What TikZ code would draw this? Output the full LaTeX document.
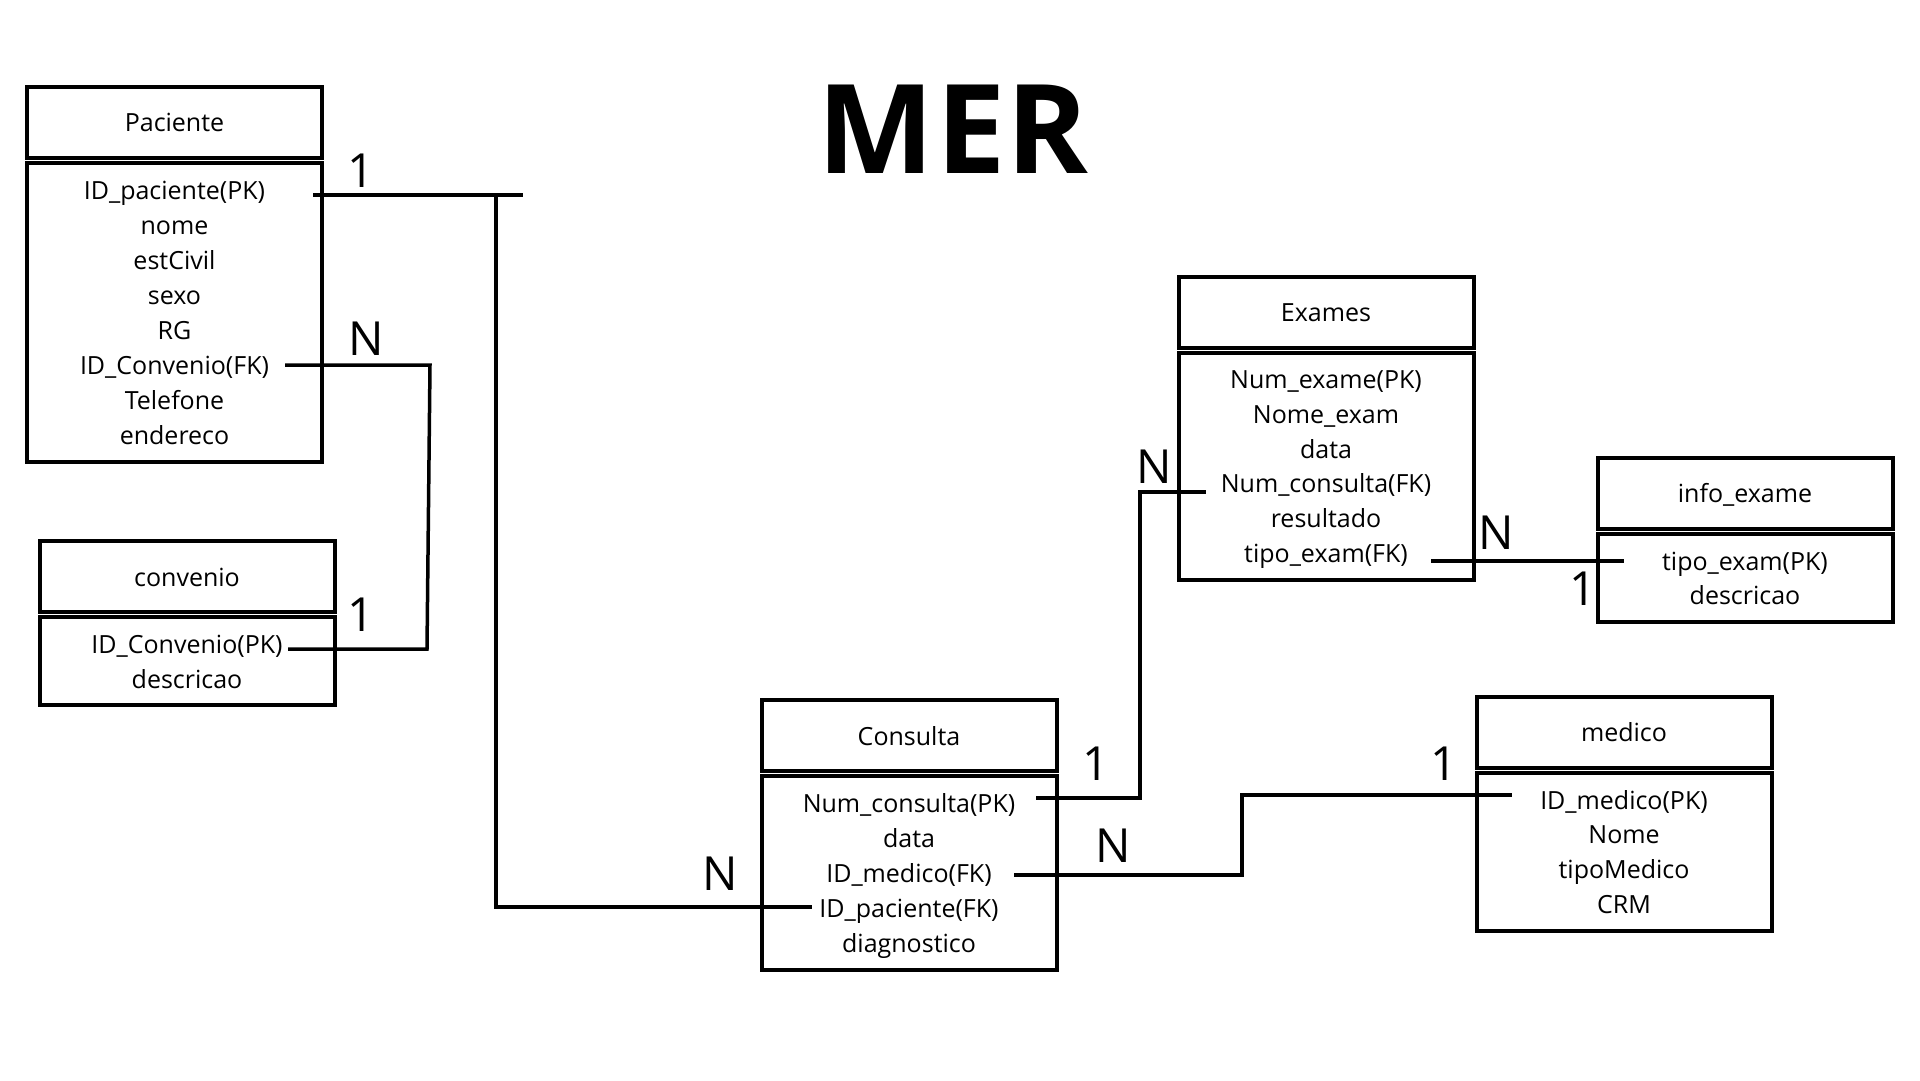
\documentclass[tikz,border=0pt]{standalone}
\usepackage{fontspec}
\setmainfont{Open Sans}
\begin{document}
\begin{tikzpicture}[x=1pt,y=-1pt,
  hdr/.style={draw, line width=4pt, minimum width=295pt, minimum height=71pt, anchor=north west, inner sep=0pt, outer sep=0pt},
  bdy/.style={draw, line width=4pt, minimum width=295pt, anchor=north west, inner sep=0pt, outer sep=0pt},
  attr/.style={font=\fontsize{25}{30}\selectfont, inner sep=0pt, anchor=base},
  card/.style={font=\fontsize{47}{56}\selectfont, inner sep=0pt, anchor=center},
  link/.style={line width=3.5pt},
  ttl/.style={font=\fontsize{124}{140}\selectfont\bfseries, inner sep=0pt, anchor=center}]
\fill[white] (0,0) rectangle (1920,1080);
\useasboundingbox (0,0) rectangle (1920,1080);

% title
\node[ttl] (title) at (953,129) {M\kern2pt E\kern1pt R};

% Paciente
\node[hdr] (pacH) at (27,87) {};
\node[bdy, minimum height=299pt] (pacB) at (27,163) {};
\node[attr] (pacT) at (174.5,131) {Paciente};
\node[attr] (pac1) at (174.5,199) {ID\_paciente(PK)};
\node[attr] (pac2) at (174.5,234) {nome};
\node[attr] (pac3) at (174.5,269) {estCivil};
\node[attr] (pac4) at (174.5,304) {sexo};
\node[attr] (pac5) at (174.5,339) {RG};
\node[attr] (pac6) at (174.5,374) {ID\_Convenio(FK)};
\node[attr] (pac7) at (174.5,409) {Telefone};
\node[attr] (pac8) at (174.5,444) {endereco};

% convenio
\node[hdr] (conH) at (40,541) {};
\node[bdy, minimum height=88pt] (conB) at (40,617) {};
\node[attr] (conT) at (187,586) {convenio};
\node[attr] (con1) at (187,653) {ID\_Convenio(PK)};
\node[attr] (con2) at (187,688) {descricao};

% Consulta
\node[hdr] (cnsH) at (762,700) {};
\node[bdy, minimum height=194pt] (cnsB) at (762,776) {};
\node[attr] (cnsT) at (909,745) {Consulta};
\node[attr] (cns1) at (909,812) {Num\_consulta(PK)};
\node[attr] (cns2) at (909,847) {data};
\node[attr] (cns3) at (909,882) {ID\_medico(FK)};
\node[attr] (cns4) at (909,917) {ID\_paciente(FK)};
\node[attr] (cns5) at (909,952) {diagnostico};

% Exames
\node[hdr] (exaH) at (1179,277) {};
\node[bdy, minimum height=227pt] (exaB) at (1179,353) {};
\node[attr] (exaT) at (1326,321) {Exames};
\node[attr] (exa1) at (1326,388) {Num\_exame(PK)};
\node[attr] (exa2) at (1326,423) {Nome\_exam};
\node[attr] (exa3) at (1326,458) {data};
\node[attr] (exa4) at (1326,492) {Num\_consulta(FK)};
\node[attr] (exa5) at (1326,527) {resultado};
\node[attr] (exa6) at (1326,562) {tipo\_exam(FK)};

% info_exame
\node[hdr] (infH) at (1598,458) {};
\node[bdy, minimum height=88pt] (infB) at (1598,534) {};
\node[attr] (infT) at (1745,502) {info\_exame};
\node[attr] (inf1) at (1745,570) {tipo\_exam(PK)};
\node[attr] (inf2) at (1745,604) {descricao};

% medico
\node[hdr] (medH) at (1477,697) {};
\node[bdy, minimum height=158pt] (medB) at (1477,773) {};
\node[attr] (medT) at (1624,741) {medico};
\node[attr] (med1) at (1624,809) {ID\_medico(PK)};
\node[attr] (med2) at (1624,843) {Nome};
\node[attr] (med3) at (1624,878) {tipoMedico};
\node[attr] (med4) at (1624,913) {CRM};

% connector coordinates
\coordinate (a1) at (313,195);
\coordinate (a2) at (523,195);
\coordinate (a3) at (496,195);
\coordinate (a4) at (812,907);

\coordinate (b1) at (285,365);
\coordinate (b2) at (430,365);
\coordinate (b3) at (427,649);
\coordinate (b4) at (288,649);

\coordinate (c1) at (1036,798);
\coordinate (c2) at (1140,492);
\coordinate (c3) at (1206,492);

\coordinate (d1) at (1014,875);
\coordinate (d2) at (1242,795);
\coordinate (d3) at (1512,795);

\coordinate (e1) at (1431,561);
\coordinate (e2) at (1624,561);

% connectors
\draw[link] (a1) -- (a2);
\draw[link] (a3) |- (a4);
\draw[link] (b1) -- (b2) -- (b3) -- (b4);
\draw[link] (c1) -| (c2) -- (c3);
\draw[link] (d1) -| (d2) -- (d3);
\draw[link] (e1) -- (e2);

% cardinalities
\node[card] (k1) at (361,171) {1};
\node[card] (k2) at (366,339) {N};
\node[card] (k3) at (361,615) {1};
\node[card] (k4) at (720,874) {N};
\node[card] (k5) at (1096,764) {1};
\node[card] (k6) at (1154,467) {N};
\node[card] (k7) at (1113,846) {N};
\node[card] (k8) at (1444,764) {1};
\node[card] (k9) at (1496,533) {N};
\node[card] (k10) at (1583,589) {1};
\end{tikzpicture}
\end{document}
